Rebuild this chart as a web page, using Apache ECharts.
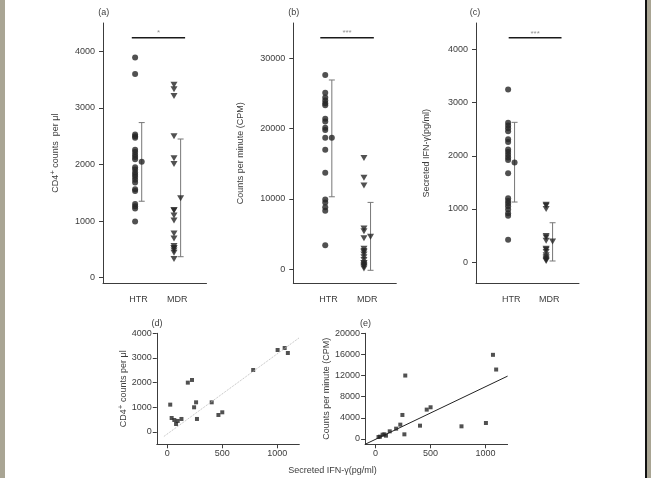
<!DOCTYPE html>
<html><head><meta charset="utf-8">
<script src="https://cdn.jsdelivr.net/npm/echarts@6/dist/echarts.min.js"></script>
<style>html,body{margin:0;padding:0;background:#fff}#c{width:651px;height:478px}</style>
</head><body><div id="c"></div>
<script>
// ---------- data ----------
const categories = ['HTR', 'MDR'];
const cd4HTR = [3890, 3600, 2530, 2500, 2470, 2260, 2220, 2170, 2130, 2090, 1950, 1910, 1860, 1820, 1780, 1730, 1680, 1560, 1530, 1300, 1260, 1220, 990];
const cd4MDR = [3410, 3330, 3210, 2500, 2110, 2010, 1190, 1190, 1100, 1010, 780, 690, 560, 520, 520, 480, 440, 330];
const cpmHTR = [27600, 25100, 24400, 24000, 23600, 23300, 21400, 21000, 20100, 19800, 18700, 17000, 13700, 9900, 9500, 8800, 8300, 3400];
const cpmMDR = [15800, 13000, 11900, 5800, 5400, 4400, 2900, 2600, 2400, 2100, 1700, 1300, 900, 800, 600, 450, 300, 100];
const ifnHTR = [3250, 2620, 2570, 2520, 2460, 2310, 2260, 2120, 2070, 2020, 1970, 1920, 1670, 1200, 1150, 1100, 1050, 990, 920, 870, 420];
const ifnMDR = [1080, 1060, 1000, 490, 460, 400, 250, 230, 190, 130, 90, 60, 40, 20];

const cd4Mean = [2050, 1405], cd4Low = [1350, 370], cd4High = [2740, 2450];
const cpmMean = [18700, 4600], cpmLow = [10300, -150], cpmHigh = [26900, 9500];
const ifnMean = [1875, 385], ifnLow = [1130, 20], ifnHigh = [2630, 740];

const sigLabels = ['*', '***', '***'];
const sigLevels = [4240, 32900, 4220];

const cd4Ticks = [0, 1000, 2000, 3000, 4000];
const cpmTicks = [0, 10000, 20000, 30000];
const ifnTicks = [0, 1000, 2000, 3000, 4000];
const ifnXTicks = [0, 500, 1000];
const cpmScatterTicks = [0, 4000, 8000, 12000, 16000, 20000];

// MDR patients: secreted IFN-gamma vs CD4 counts and CPM
const ifnX = [27, 40, 64, 80, 95, 129, 187, 225, 244, 262, 270, 404, 465, 500, 781, 1003, 1067, 1096];
const cd4Y = [1108, 567, 486, 324, 446, 527, 2000, 2108, 1000, 1202, 527, 1202, 689, 797, 2513, 3323, 3405, 3202];
const cpmY = [380, 442, 822, 885, 632, 1454, 1959, 2718, 4550, 885, 12008, 2528, 5562, 6004, 2402, 3034, 15926, 13146];

const regDX = [-30, 1200], regDY = [-180, 3820];
const regEX = [-95, 1200], regEY = [-1000, 11900];

// ---------- chart ----------
const FONT = '"Liberation Sans", Arial, Helvetica, sans-serif';
const TXT = '#3c3c3c';
const AX = '#3c3c3c';
const DOT = '#262626';
const OFF = 0.085;
const plain = v => String(v);

const topPanels = [
  {grid: {left: 103, top: 23, width: 103.5, height: 260.3}, xr: [0.09, 2.75], yr: [-100, 4500], ticks: cd4Ticks,
   htr: cd4HTR, mdr: cd4MDR, mean: cd4Mean, lo: cd4Low, hi: cd4High, span: [0.83, 2.20],
   name: '{n|CD4}{s|+}{n| counts  per }{n|μl}', gap: 41},
  {grid: {left: 293.3, top: 23, width: 103, height: 260.3}, xr: [0.09, 2.75], yr: [-2000, 35000], ticks: cpmTicks,
   htr: cpmHTR, mdr: cpmMDR, mean: cpmMean, lo: cpmLow, hi: cpmHigh, span: [0.787, 2.17],
   name: 'Counts per minute (CPM)', gap: 48},
  {grid: {left: 476, top: 23, width: 103, height: 260.3}, xr: [0.07, 2.78], yr: [-400, 4500], ticks: ifnTicks,
   htr: ifnHTR, mdr: ifnMDR, mean: ifnMean, lo: ifnLow, hi: ifnHigh, span: [0.93, 2.32],
   name: 'Secreted IFN-γ(pg/ml)', gap: 45}
];

const nameRich = {
  n: {fontSize: 9, fontFamily: FONT, color: TXT},
  s: {fontSize: 8, fontFamily: FONT, color: TXT, verticalAlign: 'top', padding: [0, 0, 5, 0]}
};

const grids = [], xAxes = [], yAxes = [], series = [];

function errRender(params, api) {
  const x = api.value(0), lo = api.value(1), hi = api.value(2);
  const p1 = api.coord([x, hi]), p2 = api.coord([x, lo]);
  const w = 3;
  const st = {stroke: '#777', lineWidth: 1};
  return {type: 'group', children: [
    {type: 'line', shape: {x1: p1[0], y1: p1[1], x2: p2[0], y2: p2[1]}, style: st},
    {type: 'line', shape: {x1: p1[0] - w, y1: p1[1], x2: p1[0] + w, y2: p1[1]}, style: st},
    {type: 'line', shape: {x1: p2[0] - w, y1: p2[1], x2: p2[0] + w, y2: p2[1]}, style: st}
  ]};
}

topPanels.forEach((p, i) => {
  grids.push(p.grid);
  xAxes.push({
    gridIndex: i, type: 'value', min: p.xr[0], max: p.xr[1],
    axisLine: {show: true, onZero: false, lineStyle: {color: AX, width: 1}},
    axisTick: {show: false}, splitLine: {show: false},
    axisLabel: {customValues: [1, 2], formatter: v => categories[Math.round(v) - 1],
      margin: 12, fontSize: 9, color: TXT, fontFamily: FONT}
  });
  yAxes.push({
    gridIndex: i, type: 'value', min: p.yr[0], max: p.yr[1],
    axisLine: {show: true, onZero: false, lineStyle: {color: AX, width: 1}},
    axisTick: {show: true, inside: false, length: 4, customValues: p.ticks, lineStyle: {color: AX}},
    axisLabel: {customValues: p.ticks, formatter: plain, margin: 8, fontSize: 9, color: TXT, fontFamily: FONT},
    splitLine: {show: false},
    name: p.name, nameLocation: 'middle', nameGap: p.gap,
    nameTextStyle: {fontSize: 9, color: TXT, fontFamily: FONT, rich: nameRich}
  });
  series.push({
    type: 'scatter', xAxisIndex: i, yAxisIndex: i, symbol: 'circle', symbolSize: 6,
    itemStyle: {color: DOT}, data: p.htr.map(v => [1 - OFF, v]), silent: true
  });
  series.push({
    type: 'scatter', xAxisIndex: i, yAxisIndex: i, symbol: 'triangle', symbolRotate: 180, symbolSize: [7, 6],
    itemStyle: {color: DOT}, data: p.mdr.map(v => [2 - OFF, v]), silent: true
  });
  series.push({
    type: 'custom', xAxisIndex: i, yAxisIndex: i, renderItem: errRender, silent: true,
    data: [[1 + OFF, p.lo[0], p.hi[0]], [2 + OFF, p.lo[1], p.hi[1]]]
  });
  series.push({
    type: 'scatter', xAxisIndex: i, yAxisIndex: i, itemStyle: {color: DOT}, silent: true,
    data: [
      {value: [1 + OFF, p.mean[0]], symbol: 'circle', symbolSize: 6},
      {value: [2 + OFF, p.mean[1]], symbol: 'triangle', symbolRotate: 180, symbolSize: [7, 6]}
    ]
  });
  series.push({
    type: 'line', xAxisIndex: i, yAxisIndex: i, symbol: 'none', silent: true,
    lineStyle: {color: '#1a1a1a', width: 1.5},
    data: [[p.span[0], sigLevels[i]], [p.span[1], sigLevels[i]]]
  });
  series.push({
    type: 'scatter', xAxisIndex: i, yAxisIndex: i, symbolSize: 1, silent: true,
    itemStyle: {color: 'rgba(0,0,0,0)'},
    label: {show: true, position: 'top', distance: 0, formatter: sigLabels[i], fontSize: 8, color: '#777', fontFamily: FONT},
    data: [[(p.span[0] + p.span[1]) / 2, sigLevels[i]]]
  });
});

const botPanels = [
  {grid: {left: 156.8, top: 333.3, width: 142.5, height: 111}, xr: [-95, 1200], yr: [-500, 4000], ticks: cd4Ticks,
   y: cd4Y, regX: regDX, regY: regDY, reg: {color: '#bdbdbd', width: 1, type: 'dotted'},
   name: '{n|CD4}{s|+}{n| counts per }{n|μl}', gap: 27},
  {grid: {left: 365.1, top: 333.3, width: 142.5, height: 111}, xr: [-95, 1200], yr: [-1000, 20000], ticks: cpmScatterTicks,
   y: cpmY, regX: regEX, regY: regEY, reg: {color: '#222', width: 1, type: 'solid'},
   name: 'Counts per minute (CPM)', gap: 32}
];

botPanels.forEach((p, j) => {
  const i = 3 + j;
  grids.push(p.grid);
  xAxes.push({
    gridIndex: i, type: 'value', min: p.xr[0], max: p.xr[1],
    axisLine: {show: true, onZero: false, lineStyle: {color: AX, width: 1}},
    axisTick: {show: true, length: 4, customValues: ifnXTicks, lineStyle: {color: AX}},
    axisLabel: {customValues: ifnXTicks, formatter: plain, margin: 5, fontSize: 9, color: TXT, fontFamily: FONT},
    splitLine: {show: false}
  });
  yAxes.push({
    gridIndex: i, type: 'value', min: p.yr[0], max: p.yr[1],
    axisLine: {show: true, onZero: false, lineStyle: {color: AX, width: 1}},
    axisTick: {show: true, length: 4, customValues: p.ticks, lineStyle: {color: AX}},
    axisLabel: {customValues: p.ticks, formatter: plain, margin: 5, fontSize: 9, color: TXT, fontFamily: FONT},
    splitLine: {show: false},
    name: p.name, nameLocation: 'middle', nameGap: p.gap,
    nameTextStyle: {fontSize: 9, color: TXT, fontFamily: FONT, rich: nameRich}
  });
  series.push({
    type: 'line', xAxisIndex: i, yAxisIndex: i, symbol: 'none', silent: true,
    lineStyle: p.reg, data: p.regX.map((x, k) => [x, p.regY[k]])
  });
  series.push({
    type: 'scatter', xAxisIndex: i, yAxisIndex: i, symbol: 'rect', symbolSize: 4, silent: true,
    itemStyle: {color: DOT}, data: ifnX.map((x, k) => [x, p.y[k]])
  });
});

const panelLabels = [['(a)', 103.7, 12.3], ['(b)', 293.8, 12.3], ['(c)', 475, 12.3], ['(d)', 157, 323.5], ['(e)', 365.5, 323.5]];
const graphic = [
  {type: 'rect', shape: {x: 0, y: 0, width: 5, height: 478}, style: {fill: '#a9a594'}, silent: true},
  {type: 'rect', shape: {x: 645, y: 0, width: 2, height: 478}, style: {fill: '#111'}, silent: true},
  {type: 'rect', shape: {x: 647, y: 0, width: 4, height: 478}, style: {fill: '#a9a594'}, silent: true},
  {type: 'text', x: 332.4, y: 470.5, silent: true,
   style: {text: 'Secreted IFN-γ(pg/ml)', align: 'center', verticalAlign: 'middle', fontSize: 9, fontFamily: FONT, fill: TXT}}
];
panelLabels.forEach(l => graphic.push({type: 'text', x: l[1], y: l[2], silent: true,
  style: {text: l[0], align: 'center', verticalAlign: 'middle', fontSize: 9, fontFamily: FONT, fill: TXT}}));

const chart = echarts.init(document.getElementById('c'), null, {renderer: 'canvas'});
chart.setOption({
  backgroundColor: '#ffffff',
  animation: false,
  grid: grids, xAxis: xAxes, yAxis: yAxes, series: series, graphic: graphic
});
</script></body></html>
